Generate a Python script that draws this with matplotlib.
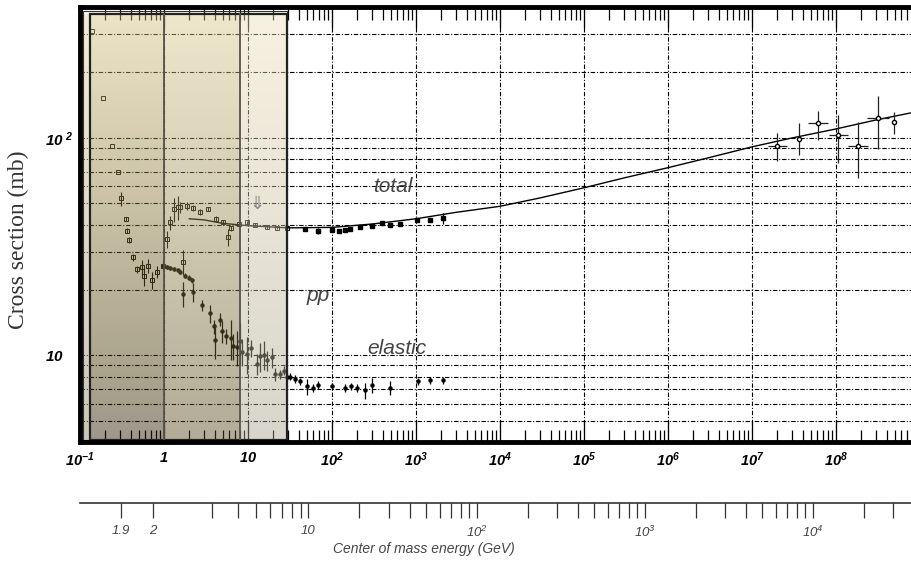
import numpy as np
import matplotlib
matplotlib.use("Agg")
import matplotlib.pyplot as plt
from matplotlib.patches import Rectangle
from matplotlib.ticker import NullFormatter, NullLocator, LogLocator

plt.rcParams['mathtext.fontset'] = 'custom'
plt.rcParams['mathtext.rm'] = 'Liberation Sans:italic'
plt.rcParams['mathtext.it'] = 'Liberation Sans:italic'
plt.rcParams['mathtext.bf'] = 'Liberation Sans:italic:bold'

M_P = 0.938  # proton mass [GeV]

# ---- data: beam momentum p_lab [GeV/c], cross section [mb]
# total, low energy (open squares)
tot_lo_p = [0.14, 0.19, 0.24, 0.28, 0.31, 0.35, 0.36, 0.385, 0.43, 0.48, 0.55, 0.58,
            0.65, 0.72, 0.83, 0.98, 1.09, 1.19, 1.30, 1.45, 1.57, 1.69, 1.87, 2.2,
            2.7, 3.3, 4.2, 5.0, 5.8, 6.2, 7.8, 9.7, 12.0, 16.7, 22.0, 29.0]
tot_lo_s = [310, 153, 91.5, 69.4, 52.7, 42.4, 37.5, 34.0, 28.3, 24.9, 25.5, 23.3,
            25.9, 22.2, 24.2, 25.9, 34.3, 40.9, 47.1, 48.0, 48.0, 27.0, 48.8, 47.5,
            45.5, 47.0, 42.4, 41.0, 35.0, 38.4, 40.2, 40.9, 40.0, 38.8, 38.6, 38.4]
tot_lo_e = [0, 0, 0, 0, 4.0, 1.0, 1.0, 1.0, 1.0, 1.0, 2.0, 2.5,
            2.0, 2.0, 1.5, 1.5, 3.0, 3.0, 6.0, 6.0, 3.0, 3.5, 2.0, 1.5,
            1.5, 1.0, 1.5, 1.0, 3.0, 1.0, 0.8, 0.8, 0.6, 0.6, 0.5, 0.5]

# total, accelerator data above the shaded band
tot_hi_p = [47.6, 69, 100, 120, 142, 165, 215, 300, 395, 490, 645, 1030, 1450, 2070]
tot_hi_s = [38.1, 37.5, 37.9, 37.5, 37.9, 38.1, 39.0, 39.4, 40.5, 39.7, 40.1, 41.8, 42.1, 42.8]
tot_hi_e = [0.8, 1.2, 1.0, 0.8, 0.8, 0.8, 0.6, 0.5, 0.5, 0.5, 0.5, 0.6, 0.6, 2.5]

# total, cosmic ray points
cr_p = [2.0e7, 3.6e7, 6.1e7, 1.07e8, 1.83e8, 3.2e8, 4.85e8]
cr_s = [92.2, 99.3, 116.6, 103.0, 92.2, 122.9, 118.7]
cr_up = [13.6, 17.7, 16.4, 24.7, 25.6, 33.0, 13.3]
cr_dn = [14.0, 15.4, 18.6, 26.0, 26.5, 34.0, 14.0]
cr_xf = [1.3, 1.0, 1.33, 1.3, 1.33, 1.35, 1.0]   # horizontal error factor

# total, fitted curve
fit_p = [2.0, 3.0, 5.0, 10, 30, 100, 300, 1e3, 3e3, 1e4, 3e4, 1e5, 3e5,
         1e6, 3e6, 1e7, 3e7, 1e8, 3e8, 1e9]
fit_s = [42.5, 42.0, 40.5, 39.5, 38.6, 38.8, 40.2, 42.5, 45.5, 48.5, 53.0, 59.0, 65.5,
         73.0, 81.0, 91.0, 100.0, 110.0, 121.0, 133.0]

# elastic
el_p = [0.98, 1.09, 1.19, 1.30, 1.45, 1.57, 1.69, 1.79, 2.0, 2.16, 2.2, 2.8, 3.56, 3.9,
        4.1, 4.7, 4.9, 5.5, 6.2, 6.7, 7.4, 8.1, 8.5, 9.7, 11, 12.8, 14, 15.3, 16.7,
        19.2, 21, 24, 26.6, 29, 31.7, 36, 41.8, 50, 60, 69, 100, 142, 170, 200, 245,
        300, 490, 1070, 1450, 2070]
el_s = [25.9, 25.5, 25.2, 25.0, 24.6, 24.2, 19.2, 23.3, 22.8, 22.2, 19.6, 17.0, 15.6, 13.6,
        11.8, 14.6, 12.9, 12.3, 12.0, 11.0, 10.9, 11.6, 10.4, 10.2, 10.8, 9.15, 9.9, 10.1, 9.5,
        9.8, 8.2, 8.2, 8.5, 8.0, 8.0, 7.8, 7.6, 7.2, 7.1, 7.3, 7.2, 7.07, 7.2, 7.1, 6.9,
        7.3, 7.1, 7.6, 7.7, 7.7]
el_e = [0.5, 0.5, 0.5, 0.5, 0.5, 0.5, 2.5, 0.6, 0.6, 0.6, 2.0, 1.0, 1.5, 1.0,
        2.2, 1.0, 1.5, 1.0, 2.5, 1.5, 2.0, 2.5, 1.5, 2.0, 1.0, 1.0, 1.5, 1.5, 1.0,
        1.0, 0.6, 0.4, 0.4, 0.3, 0.3, 0.3, 0.3, 0.6, 0.3, 0.3, 0.3, 0.3, 0.3, 0.3, 0.6,
        0.6, 0.5, 0.3, 0.3, 0.3]

# axis ticks (10^9 sits just past the right edge of the picture)
x_major = [10.0 ** k for k in range(-1, 10)]
x_major_lbl = [r'$\mathbf{10^{-1}}$', r'$\mathbf{1}$', r'$\mathbf{10}$'] + \
    [r'$\mathbf{10^{%d}}$' % k for k in range(2, 9)] + ['']
y_major = [10, 100]
y_major_lbl = [r'$\mathbf{10}$', r'$\mathbf{10^{\ 2}}$']

cm_ticks = [1.9, 2, 3, 4, 5, 6, 7, 8, 9, 10, 20, 30, 40, 50, 60, 70, 80, 90, 100,
            200, 300, 400, 500, 600, 700, 800, 900, 1000, 2000, 3000, 4000, 5000,
            6000, 7000, 8000, 9000, 1e4, 2e4, 3e4, 4e4]
cm_lbl = {1.9: '1.9', 2: '2', 10: '10', 100: r'$\mathit{10^{2}}$',
          1000: r'$\mathit{10^{3}}$', 1e4: r'$\mathit{10^{4}}$'}


def plab_to_sqrts(p):
    p = np.asarray(p, dtype=float)
    return np.sqrt(2 * M_P**2 + 2 * M_P * np.sqrt(p**2 + M_P**2))


def sqrts_to_plab(w):
    w = np.asarray(w, dtype=float)
    e = (w**2 - 2 * M_P**2) / (2 * M_P)
    return np.sqrt(np.clip(e**2 - M_P**2, 1e-12, None))


fig = plt.figure(figsize=(9.11, 5.63), dpi=100)
ax = fig.add_axes([80 / 911, 121 / 563, 840 / 911, 435 / 563])
ax.set_xscale('log')
ax.set_yscale('log')
ax.set_xlim(0.1, 1e9)
ax.set_ylim(4, 400)

# data
ax.plot(fit_p, fit_s, color='k', lw=1.0, zorder=2)
ax.errorbar(tot_lo_p, tot_lo_s, yerr=tot_lo_e, fmt='s', ms=3, mfc='none', mec='k',
            mew=0.7, ecolor='k', elinewidth=0.8, capsize=0, zorder=2)
ax.errorbar(tot_hi_p, tot_hi_s, yerr=tot_hi_e, fmt='s', ms=2.5, color='k',
            elinewidth=0.9, capsize=0, zorder=2)
cr_p = np.array(cr_p)
cr_xf = np.array(cr_xf)
ax.errorbar(cr_p, cr_s, yerr=[cr_dn, cr_up], xerr=[cr_p - cr_p / cr_xf, cr_p * cr_xf - cr_p],
            fmt='o', ms=3, mfc='white', mec='k', ecolor='#222', elinewidth=0.9,
            capsize=0, zorder=2)
ax.errorbar(el_p, el_s, yerr=el_e, fmt='o', ms=2.2, color='k', elinewidth=0.9,
            capsize=0, zorder=2)

# grid
dash = (0, (4, 1.6, 1, 1.6))
ax.grid(True, which='major', axis='x', color='k', lw=0.8, ls=dash)
ax.grid(True, which='both', axis='y', color='k', lw=0.8, ls=dash)

# ticks
ax.set_xticks(x_major, x_major_lbl, fontsize=10.5)
ax.xaxis.set_minor_locator(LogLocator(base=10, subs=np.arange(2, 10), numticks=50))
ax.xaxis.set_minor_formatter(NullFormatter())
ax.tick_params(axis='x', which='major', direction='in', top=True, bottom=True,
               length=15, width=0.9, pad=6)
ax.tick_params(axis='x', which='minor', direction='in', top=True, bottom=True,
               length=9, width=0.9)
ax.set_yticks(y_major, y_major_lbl, fontsize=11)
ax.yaxis.set_minor_formatter(NullFormatter())
ax.tick_params(axis='y', which='both', length=0, pad=25)
for t in ax.get_yticklabels():
    t.set_horizontalalignment('left')

for side in ['left', 'top', 'bottom']:
    ax.spines[side].set_linewidth(3.5)
    ax.spines[side].set_zorder(6)
ax.spines['right'].set_visible(False)

# shaded low-energy band with vertical colour gradient
xtr = ax.get_xaxis_transform()
y_lo, y_hi = 0.005, 0.984
columns = [
    (0.1, 0.133, (243, 236, 214), (203, 199, 184)),
    (0.133, 1.0, (237, 227, 197), (158, 152, 128)),
    (1.0, 8.1, (239, 231, 204), (178, 172, 152)),
    (8.1, 29.4, (247, 241, 224), (216, 214, 204)),
]
alpha = 0.45
nb = 90
for x0, x1, c_top, c_bot in columns:
    for i in range(nb):
        f = (i + 0.5) / nb
        target = np.array(c_bot) * (1 - f) + np.array(c_top) * f
        fc = np.clip((target - (1 - alpha) * 255) / alpha, 0, 255) / 255
        ax.axvspan(x0, x1, ymin=y_lo + (y_hi - y_lo) * i / nb,
                   ymax=y_lo + (y_hi - y_lo) * (i + 1) / nb,
                   fc=fc, alpha=alpha, lw=0, antialiased=False, zorder=3)
ax.add_patch(Rectangle((0.1095, y_lo), 29.4 - 0.1095, 0.991 - y_lo, transform=xtr,
                       fill=False, ec='#333333', lw=0.8, zorder=4))
ax.add_patch(Rectangle((0.133, y_lo), 29.4 - 0.133, y_hi - y_lo, transform=xtr,
                       fill=False, ec='#222222', lw=1.6, zorder=4))
ax.axvline(1.0, ymin=y_lo, ymax=y_hi, color='#55524a', lw=1.3, zorder=4)
ax.axvline(8.1, ymin=y_lo, ymax=y_hi, color='#55524a', lw=1.3, zorder=4)

# labels inside the plot
txt = dict(fontsize=15, fontstyle='italic', color='#444444', family='Liberation Sans',
           ha='center', va='center', zorder=5)
ax.text(523, 60, 'total', **txt)
ax.text(69, 18.9, 'pp', **txt)
ax.text(598, 10.8, 'elastic', **txt)
ax.text(12.6, 49.7, '\u21d3', fontsize=13, color='#888888', ha='center', va='center',
        zorder=5)

ax.set_ylabel('Cross section (mb)', family='Liberation Serif', fontsize=17,
              color='#333333')
ax.yaxis.set_label_coords(-0.061, 0.464)

# centre of mass energy scale
sec = ax.secondary_xaxis(-0.14, functions=(plab_to_sqrts, sqrts_to_plab))
sec.set_xticks(cm_ticks, [cm_lbl.get(t, '') for t in cm_ticks], fontsize=9.5,
               fontstyle='italic', family='Liberation Sans', color='#444444')
sec.xaxis.set_minor_locator(NullLocator())
sec.tick_params(axis='x', direction='out', length=11, width=0.9, pad=5, color='#333333')
sec.spines['bottom'].set_linewidth(1.2)
sec.spines['bottom'].set_color('#333333')
fig.text(424 / 911, 14 / 563, 'Center of mass energy (GeV)', fontsize=10,
         fontstyle='italic', family='Liberation Sans', color='#444444',
         ha='center', va='center')

fig.savefig('out.png', dpi=100)
